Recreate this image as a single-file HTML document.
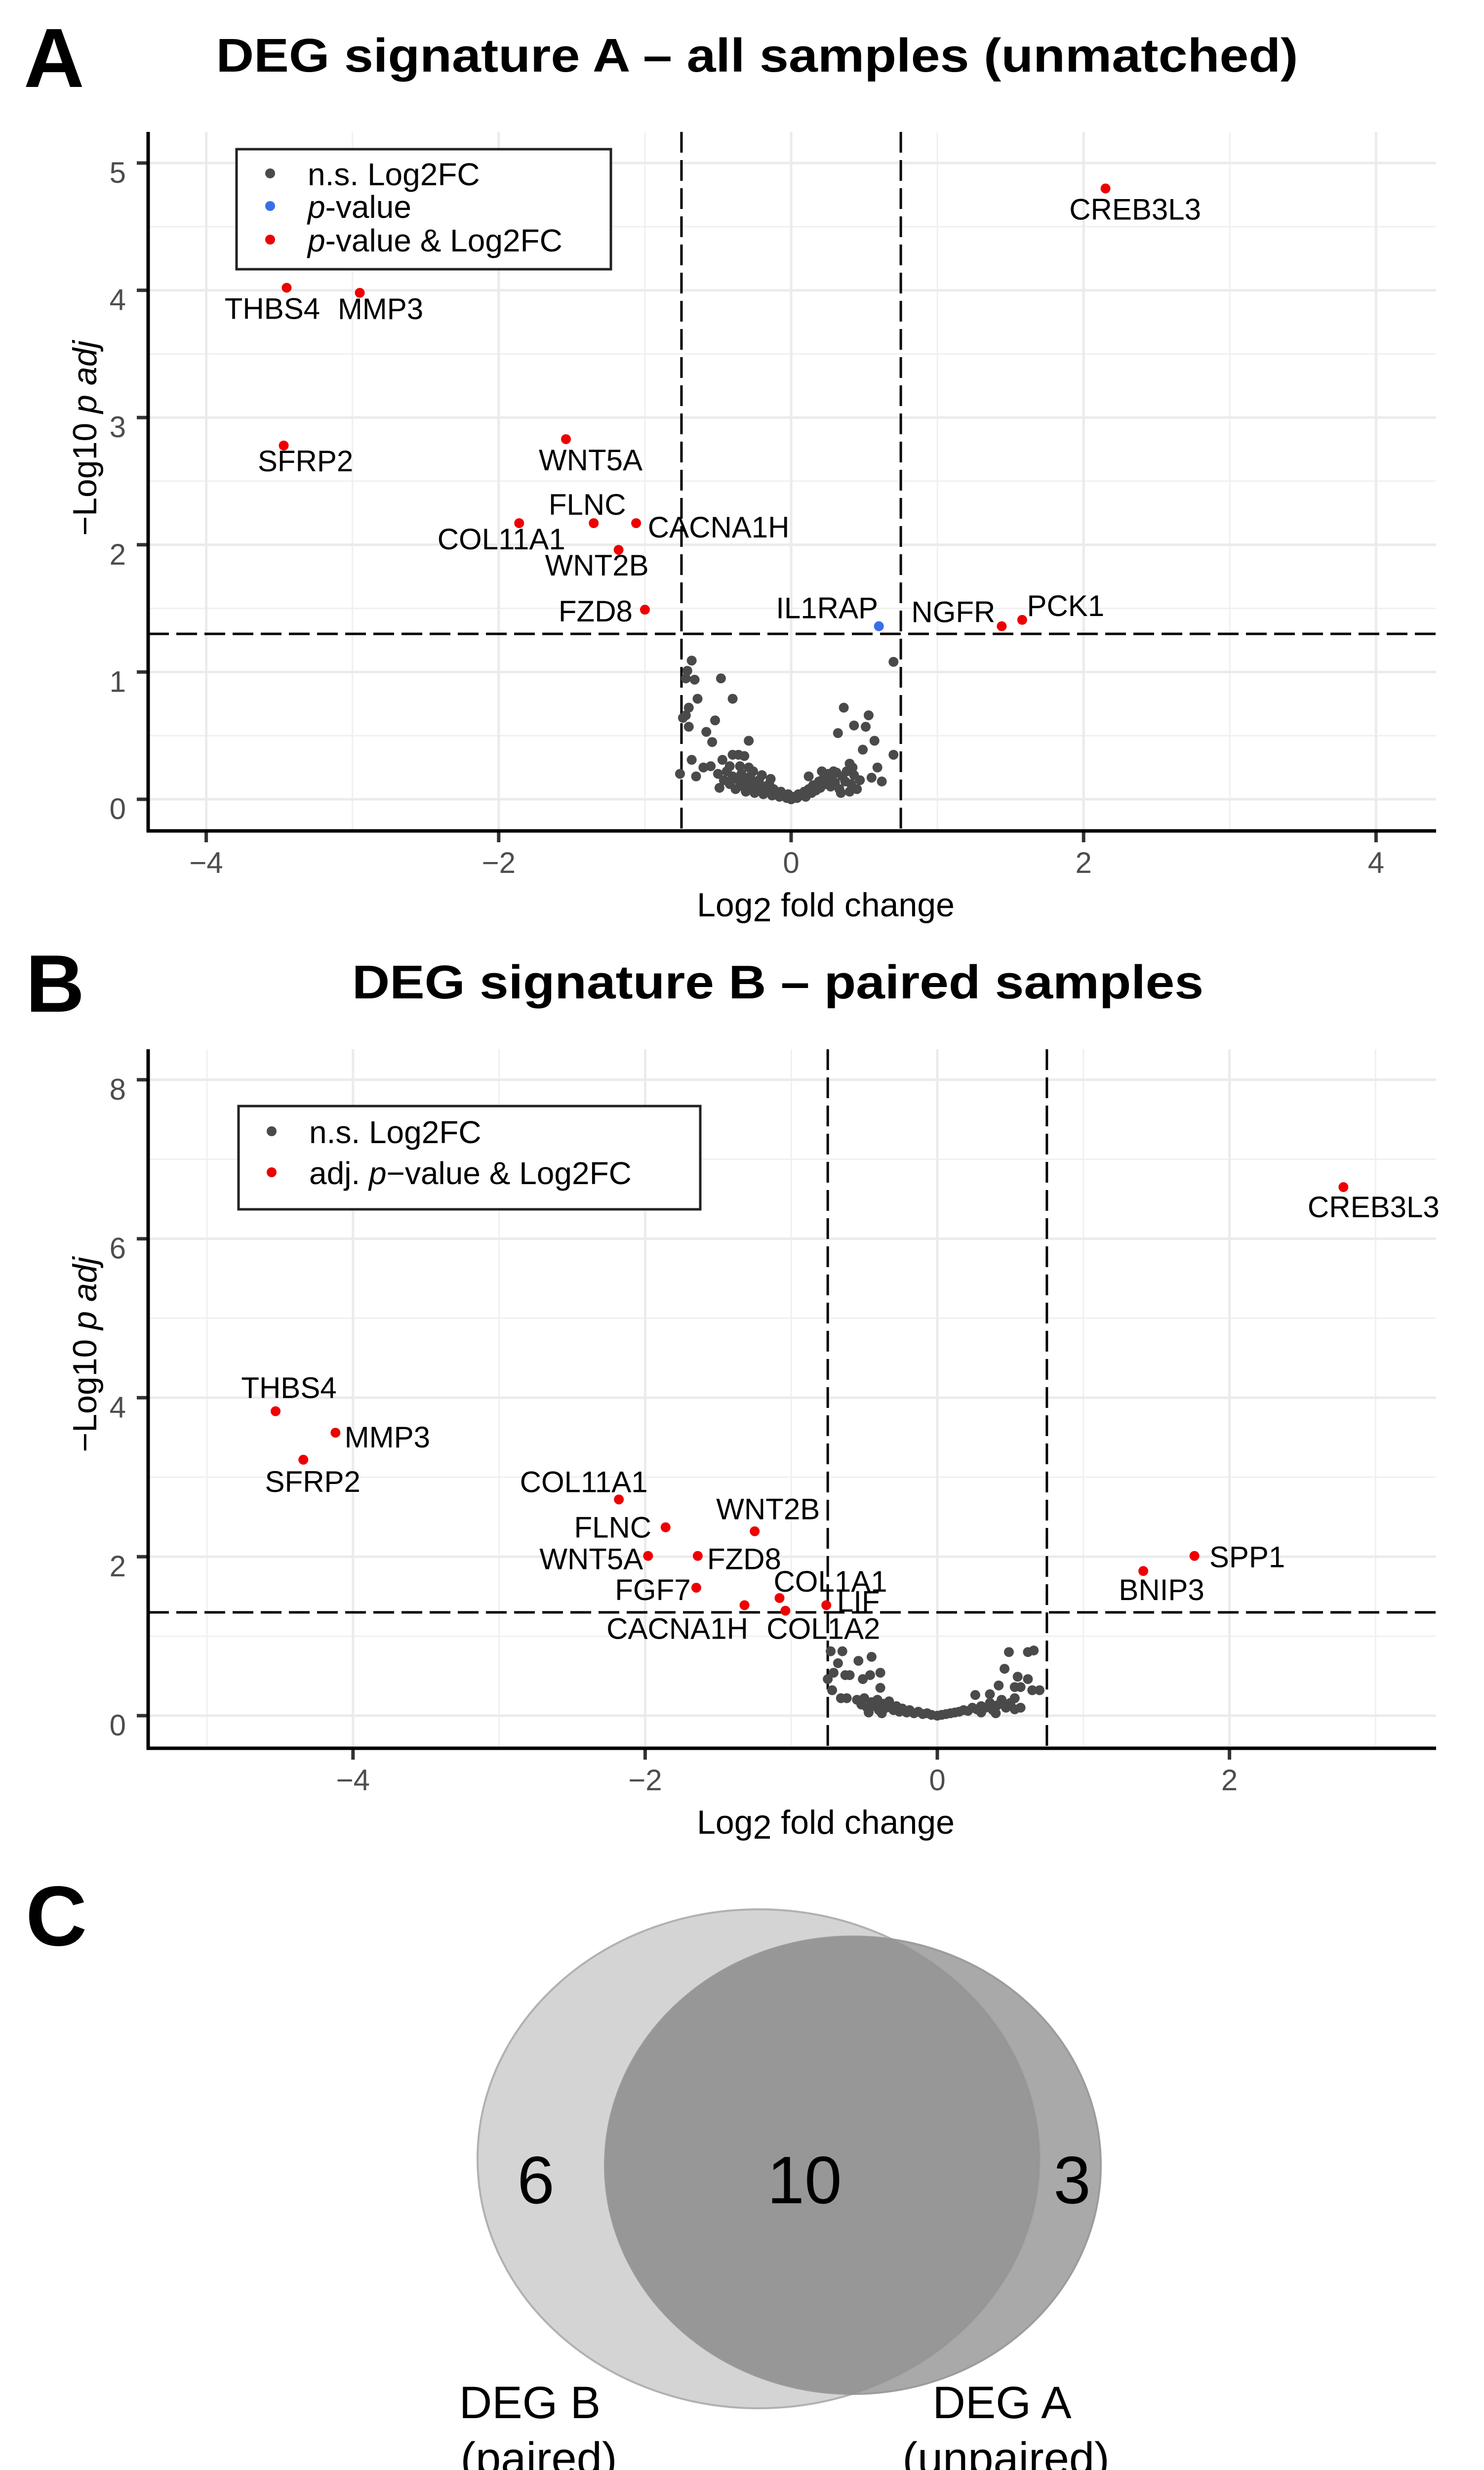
<!DOCTYPE html>
<html><head><meta charset="utf-8">
<style>
html,body{margin:0;padding:0;background:#fff;width:3005px;height:5104px;overflow:hidden;}
svg{display:block;font-family:"Liberation Sans",Arial,sans-serif;}
</style></head>
<body>
<svg id="fig" width="3005" height="5104" viewBox="0 0 3005 5104" xmlns="http://www.w3.org/2000/svg">
  <text x="48" y="176" font-size="170" font-weight="bold">A</text>
  <text x="1533" y="145" font-size="96" font-weight="bold" text-anchor="middle" textLength="2191" lengthAdjust="spacingAndGlyphs">DEG signature A – all samples (unmatched)</text>
  <text x="52" y="2048" font-size="165" font-weight="bold">B</text>
  <text x="1575" y="2021" font-size="96" font-weight="bold" text-anchor="middle" textLength="1724" lengthAdjust="spacingAndGlyphs">DEG signature B – paired samples</text>
  <g id="chartA"></g>
  <g id="chartB"></g>
  <g id="venn">
    <text x="52" y="3938" font-size="172" font-weight="bold">C</text>
    <defs><clipPath id="clipB"><ellipse cx="1536" cy="4370" rx="569" ry="505"/></clipPath></defs>
    <ellipse cx="1536" cy="4370" rx="569" ry="505" fill="#d4d4d4" stroke="#c4c4c4" stroke-width="4"/>
    <ellipse cx="1727" cy="4383" rx="502" ry="463" fill="#a9a9a9" stroke="#9c9c9c" stroke-width="4"/>
    <ellipse cx="1727" cy="4383" rx="502" ry="463" fill="#979797" clip-path="url(#clipB)"/>
    <ellipse cx="1536" cy="4370" rx="569" ry="505" fill="none" stroke="#8f8f8f" stroke-opacity="0.35" stroke-width="4"/>
    <text x="1085" y="4460" font-size="136" text-anchor="middle">6</text>
    <text x="1629" y="4460" font-size="136" text-anchor="middle">10</text>
    <text x="2171" y="4460" font-size="136" text-anchor="middle">3</text>
    <text x="1073" y="4895" font-size="92" text-anchor="middle">DEG B</text>
    <text x="1091" y="5008" font-size="92" text-anchor="middle">(paired)</text>
    <text x="2029" y="4895" font-size="92" text-anchor="middle">DEG A</text>
    <text x="2037" y="5008" font-size="92" text-anchor="middle">(unpaired)</text>
  </g>
</svg>
<script>
// ===== Panel A data =====
const aGenes = ["CREB3L3","THBS4","MMP3","SFRP2","WNT5A","FLNC","CACNA1H","COL11A1","WNT2B","FZD8","IL1RAP","NGFR","PCK1"];
const aSigX = [2.15,-3.45,-2.95,-3.47,-1.54,-1.35,-1.06,-1.86,-1.18,-1.00,0.60,1.44,1.58];
const aSigY = [4.80,4.02,3.98,2.78,2.83,2.17,2.17,2.17,1.96,1.49,1.36,1.36,1.41];
const aSigCat = ["both","both","both","both","both","both","both","both","both","both","p","both","both"];
const aLabDX = [60,-29,42,44,50,-13,167,-36,-44,-100,-105,-98,88];
const aLabDY = [63,63,53,52,63,-17,29,53,52,24,-16,-8,-8];
const aNsX = [-0.68,-0.71,-0.72,-0.66,-0.48,-0.64,-0.40,-0.70,-0.72,-0.74,-0.52,-0.70,-0.58,-0.54,-0.29,-0.68,-0.76,-0.65,-0.60,-0.55,-0.47,-0.40,-0.36,-0.32,-0.49,-0.42,-0.35,-0.29,
 -0.50,-0.46,-0.44,-0.42,-0.40,-0.38,-0.36,-0.34,-0.33,-0.31,-0.30,-0.28,-0.27,-0.25,-0.24,-0.22,-0.21,-0.19,-0.18,-0.16,-0.15,-0.13,-0.12,-0.10,-0.08,-0.07,-0.05,-0.03,-0.02,0.00,0.02,0.04,0.05,0.07,0.09,0.10,0.12,0.14,0.15,0.17,0.19,0.20,0.22,0.24,0.25,0.27,0.28,0.30,0.31,0.33,0.35,0.37,0.38,0.41,0.43,0.45,0.47,-0.26,-0.20,-0.14,
 0.70,0.36,0.53,0.43,0.51,0.32,0.57,0.49,0.70,0.40,0.42,0.59,0.55,0.62,0.34,0.40,0.12,0.21,0.29];
const aNsY = [1.09,1.01,0.95,0.94,0.95,0.79,0.79,0.72,0.66,0.64,0.62,0.57,0.53,0.45,0.46,0.31,0.20,0.18,0.25,0.26,0.31,0.35,0.35,0.34,0.09,0.26,0.26,0.25,
 0.20,0.15,0.22,0.12,0.18,0.08,0.15,0.20,0.10,0.06,0.14,0.18,0.09,0.05,0.12,0.15,0.07,0.04,0.10,0.06,0.12,0.03,0.08,0.05,0.02,0.06,0.03,0.01,0.04,0.00,0.02,0.01,0.04,0.03,0.06,0.02,0.08,0.05,0.11,0.07,0.14,0.09,0.16,0.12,0.20,0.10,0.17,0.13,0.21,0.08,0.18,0.14,0.22,0.12,0.19,0.08,0.15,0.22,0.19,0.16,
 1.08,0.72,0.66,0.58,0.57,0.52,0.46,0.39,0.35,0.28,0.25,0.25,0.17,0.14,0.05,0.06,0.18,0.22,0.22];
const aXTicks = [-4,-2,0,2,4];
const aXTickLabels = ["\u22124","\u22122","0","2","4"];
const aYTicks = [0,1,2,3,4,5];
const aYTickLabels = ["0","1","2","3","4","5"];

// ===== Panel B data =====
const bGenes = ["CREB3L3","THBS4","MMP3","SFRP2","COL11A1","FLNC","WNT2B","WNT5A","FZD8","FGF7","CACNA1H","COL1A1","COL1A2","LIF","SPP1","BNIP3"];
const bSigX = [2.78,-4.53,-4.12,-4.34,-2.18,-1.86,-1.25,-1.98,-1.64,-1.65,-1.32,-1.08,-1.04,-0.76,1.76,1.41];
const bSigY = [6.65,3.83,3.56,3.22,2.72,2.37,2.32,2.01,2.01,1.61,1.39,1.48,1.32,1.39,2.01,1.82];
const bLabDX = [61,27,105,19,-71,-107,27,-115,94,-88,-136,103,77,65,107,37];
const bLabDY = [61,-27,30,65,-15,21,-24,27,27,25,68,-13,57,13,23,59];
const bNsX = [-0.73,-0.65,-0.68,-0.54,-0.45,-0.71,-0.63,-0.60,-0.75,-0.51,-0.46,-0.39,-0.72,-0.39,-0.66,-0.62,
 -0.55,-0.52,-0.50,-0.48,-0.45,-0.43,-0.41,-0.40,-0.37,-0.35,-0.33,-0.30,-0.28,-0.26,-0.24,-0.21,-0.19,-0.16,-0.13,-0.10,-0.07,-0.04,0.00,0.03,0.06,0.09,0.12,0.15,0.18,0.21,0.24,0.27,0.30,0.33,0.36,0.38,0.41,0.44,0.47,0.50,0.53,-0.47,-0.38,0.30,0.40,
 0.49,0.62,0.66,0.46,0.55,0.62,0.42,0.53,0.57,0.65,0.70,0.53,0.57,0.26,0.36];
const bNsY = [0.81,0.81,0.66,0.69,0.74,0.54,0.51,0.51,0.46,0.46,0.51,0.54,0.32,0.35,0.22,0.22,
 0.20,0.14,0.22,0.10,0.17,0.12,0.20,0.07,0.15,0.10,0.18,0.07,0.12,0.05,0.09,0.04,0.07,0.03,0.05,0.02,0.03,0.01,0.00,0.01,0.02,0.03,0.04,0.05,0.07,0.06,0.10,0.08,0.12,0.10,0.16,0.07,0.13,0.20,0.10,0.16,0.08,0.04,0.03,0.04,0.03,
 0.80,0.80,0.82,0.59,0.49,0.46,0.38,0.36,0.36,0.32,0.32,0.22,0.10,0.26,0.27];
const bXTicks = [-4,-2,0,2];
const bXTickLabels = ["\u22124","\u22122","0","2"];
const bYTicks = [0,2,4,6,8];
const bYTickLabels = ["0","2","4","6","8"];

const NS="http://www.w3.org/2000/svg";
function mk(tag, attrs, parent){
  const e=document.createElementNS(NS,tag);
  for(const k in attrs) e.setAttribute(k, attrs[k]);
  parent.appendChild(e); return e;
}

function drawVolcano(g, cfg){
  const sx = v => cfg.x0 + v*cfg.ux;
  const sy = v => cfg.y0 - v*cfg.uy;
  for(let v=cfg.xmin; v<=cfg.xmax; v+=1){
    if(cfg.xTicks.indexOf(v)>=0) continue;
    const l=mk('line',{x1:sx(v),x2:sx(v),y1:cfg.top,y2:cfg.axisY,stroke:'#f0f0f0','stroke-width':3},g);
    
    
  }
  for(let v=cfg.yMinorStart; v<=cfg.ymaxGrid; v+=cfg.yMinorStep){
    const l=mk('line',{x1:cfg.left,x2:cfg.right,y1:sy(v),y2:sy(v),stroke:'#f0f0f0','stroke-width':3},g);
    
    
  }
  cfg.xTicks.forEach((v,i)=>{
    const l=mk('line',{x1:sx(v),x2:sx(v),y1:cfg.top,y2:cfg.axisY,stroke:'#ebebeb','stroke-width':5},g);
    
    
    const t=mk('line',{x1:sx(v),x2:sx(v),y1:cfg.axisY,y2:cfg.axisY+23,stroke:'#333','stroke-width':7},g);
    
    
    const tx=mk('text',{x:sx(v),y:cfg.axisY+85,'font-size':60,'text-anchor':'middle',fill:'#4d4d4d'},g);
    tx.textContent=cfg.xTickLabels[i];
    
    
  });
  cfg.yTicks.forEach((v,i)=>{
    const l=mk('line',{x1:cfg.left,x2:cfg.right,y1:sy(v),y2:sy(v),stroke:'#ebebeb','stroke-width':5},g);
    
    
    const t=mk('line',{x1:cfg.left-23,x2:cfg.left,y1:sy(v),y2:sy(v),stroke:'#333','stroke-width':7},g);
    
    
    const tx=mk('text',{x:cfg.left-45,y:sy(v)+40,'font-size':60,'text-anchor':'end',fill:'#4d4d4d'},g);
    tx.textContent=cfg.yTickLabels[i];
    
    
  });
  [-0.75,0.75].forEach(v=>{
    const l=mk('line',{x1:sx(v),x2:sx(v),y1:cfg.top,y2:cfg.axisY,stroke:'#000','stroke-width':5,'stroke-dasharray':'42 15'},g);
    
    
  });
  const h=mk('line',{x1:cfg.left,x2:cfg.right,y1:sy(1.3),y2:sy(1.3),stroke:'#000','stroke-width':5,'stroke-dasharray':'42 15'},g);
  
  
  const ya=mk('line',{x1:cfg.left,x2:cfg.left,y1:cfg.top,y2:cfg.axisY+3,stroke:'#000','stroke-width':7},g);
  
  
  const xa=mk('line',{x1:cfg.left-3,x2:cfg.right,y1:cfg.axisY,y2:cfg.axisY,stroke:'#000','stroke-width':7},g);
  
  
  cfg.nsX.forEach((v,i)=>{
    const c=mk('circle',{cx:sx(v),cy:sy(cfg.nsY[i]),r:10,fill:'#4a4a4a'},g);
    
    
  });
  cfg.sigX.forEach((v,i)=>{
    const px=sx(v), py=sy(cfg.sigY[i]);
    const c=mk('circle',{cx:px,cy:py,r:10,fill:cfg.sigCat && cfg.sigCat[i]==='p' ? '#3a6ee8' : '#ee0000'},g);
    
    
    const t=mk('text',{x:px+cfg.labDX[i],y:py+cfg.labDY[i],'font-size':60,'text-anchor':'middle',fill:'#000'},g);
    t.textContent=cfg.genes[i];
    
    
  });
  const xt=mk('text',{x:cfg.xTitleX,y:cfg.axisY+173,'font-size':68,'text-anchor':'middle'},g);
  xt.innerHTML='Log<tspan dy="10">2</tspan><tspan dy="-10"> fold change</tspan>';
  
  
  const yt=mk('text',{x:0,y:0,'font-size':68,'text-anchor':'middle',transform:'translate(195,'+cfg.yTitleY+') rotate(-90)'},g);
  yt.innerHTML='\u2212Log10  <tspan font-style="italic">p</tspan>  <tspan font-style="italic">adj</tspan>';
  
  
  const lg=mk('g',{},g);
  
  
  const b=cfg.legend;
  mk('rect',{x:b.x,y:b.y,width:b.w,height:b.h,fill:'#fff',stroke:'#222','stroke-width':5},lg);
  b.items.forEach((it,i)=>{
    const cy=b.rows[i];
    const d=mk('circle',{cx:b.dotX,cy:cy,r:10,fill:it.color},lg);
    
    
    const t=mk('text',{x:b.textX,y:cy+24,'font-size':64},lg);
    t.innerHTML=it.html;
    
    
  });
}

drawVolcano(document.getElementById('chartA'),{
  x0:1602, ux:296.1, y0:1618, uy:257.6, left:300, right:2908, top:267, axisY:1682,
  xmin:-4, xmax:4, xTicks:aXTicks, xTickLabels:aXTickLabels, yTicks:aYTicks, yTickLabels:aYTickLabels,
  yMinorStart:0.5, yMinorStep:1, ymaxGrid:5,
  nsX:aNsX, nsY:aNsY, sigX:aSigX, sigY:aSigY, sigCat:aSigCat, genes:aGenes, labDX:aLabDX, labDY:aLabDY,
  xTitleX:1672, yTitleY:887,
  legend:{x:479,y:302,w:758,h:243,dotX:547,textX:623,rows:[351,417,485],
    items:[{color:'#4a4a4a',html:'n.s.  Log2FC'},{color:'#3a6ee8',html:'<tspan font-style="italic">p</tspan>-value'},{color:'#ee0000',html:'<tspan font-style="italic">p</tspan>-value  &amp; Log2FC'}]}
});
drawVolcano(document.getElementById('chartB'),{
  x0:1898, ux:295.8, y0:3473, uy:160.9, left:300, right:2908, top:2124, axisY:3539,
  xmin:-5, xmax:3, xTicks:bXTicks, xTickLabels:bXTickLabels, yTicks:bYTicks, yTickLabels:bYTickLabels,
  yMinorStart:1, yMinorStep:2, ymaxGrid:7,
  nsX:bNsX, nsY:bNsY, sigX:bSigX, sigY:bSigY, sigCat:null, genes:bGenes, labDX:bLabDX, labDY:bLabDY,
  xTitleX:1672, yTitleY:2742,
  legend:{x:483,y:2239,w:935,h:209,dotX:550,textX:626,rows:[2290,2373],
    items:[{color:'#4a4a4a',html:'n.s.  Log2FC'},{color:'#ee0000',html:'adj. <tspan font-style="italic">p</tspan>\u2212value  &amp; Log2FC'}]}
});
</script>
</body></html>
